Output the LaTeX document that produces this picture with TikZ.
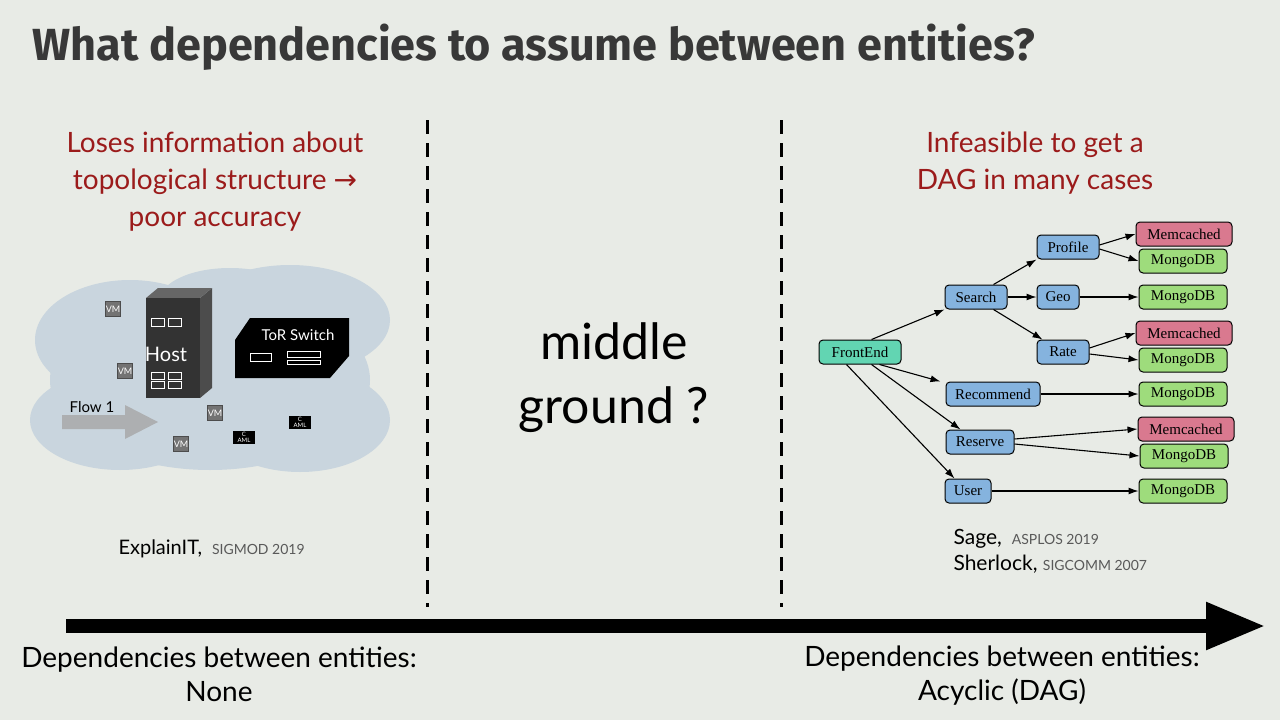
\documentclass[tikz,border=0pt]{standalone}
\usepackage{fontspec}
\setmainfont{Lato}
\newfontfamily\serifg{Liberation Serif}
\newfontfamily\titlef{Fira Sans}[UprightFont=* Bold]
\newfontfamily\symf{DejaVu Sans}
\usetikzlibrary{arrows.meta,shapes.misc}
\definecolor{bg}{HTML}{E8EBE6}
\definecolor{redt}{HTML}{9B1B1B}
\definecolor{cloud}{HTML}{C9D5DE}
\definecolor{nblue}{HTML}{85B3DE}
\definecolor{ngreen}{HTML}{9EDC7C}
\definecolor{npink}{HTML}{D9798F}
\definecolor{nteal}{HTML}{62D5B2}
\tikzset{
 g/.style={draw=black,line width=1pt,rounded corners=4pt,minimum height=24pt,inner xsep=3pt,font=\serifg\fontsize{15}{15}\selectfont},
 sv/.style={g,fill=nblue},
 mo/.style={g,fill=ngreen,minimum width=88pt},
 me/.style={g,fill=npink,minimum width=96pt},
 e/.style={-{Latex[length=10pt,width=7pt]},line width=1.1pt},
 vm/.style={fill=black!55,draw=black!70,minimum size=15pt,inner sep=0pt,text=white,font=\fontsize{9}{9}\selectfont},
 cam/.style={fill=black,minimum width=22pt,minimum height=13pt,inner sep=0pt,text=white,font=\fontsize{6}{6}\selectfont,align=center},
 red/.style={text=redt,font=\fontsize{28}{37}\selectfont,align=center},
 bot/.style={font=\fontsize{28}{34}\selectfont,align=center}
}
\begin{document}
\begin{tikzpicture}[x=1pt,y=-1pt]
\fill[bg] (0,0) rectangle (1280,720);
\useasboundingbox (0,0) rectangle (1280,720);
\node[anchor=west,text=black!78,font=\titlef\fontsize{45}{45}\selectfont] (title) at (29,47) {What dependencies to assume between entities?};
% dashed
\draw[line width=3pt,dash pattern=on 14pt off 9pt] (427,120) coordinate (d1a) -- (427,607) coordinate (d1b);
\draw[line width=3pt,dash pattern=on 14pt off 9pt] (781,120) coordinate (d2a) -- (781,607) coordinate (d2b);
% axis
\draw[line width=14pt,-{Triangle[length=60pt,width=44pt]}] (66,626) coordinate (ax0) -- (1266,626) coordinate (ax1);
% headings
\node[red] (lh) at (215,182) {Loses information about\\topological structure {\symf→}\\poor accuracy};
\node[red] (rh) at (1035,163) {Infeasible to get a\\DAG in many cases};
\node[font=\fontsize{50}{64}\selectfont,align=center] (mid) at (614,378) {middle\\ground ?};
% cloud
\fill[cloud] (210,380) ellipse (160 and 90);
\fill[cloud] (130,340) ellipse (95 and 60);
\fill[cloud] (290,320) ellipse (100 and 55);
\fill[cloud] (120,420) ellipse (90 and 50);
\fill[cloud] (300,420) ellipse (90 and 52);
\fill[cloud] (230,300) ellipse (70 and 32);
% host
\fill[black!70] (200,298) -- (212,288) -- (212,388) -- (200,398) -- cycle;
\fill[black!60] (146,298) -- (158,288) -- (212,288) -- (200,298) -- cycle;
\fill[black!80] (146,298) rectangle (200,398);
\node[text=white,font=\fontsize{20}{20}\selectfont] (host) at (166,354) {Host};
\draw[white,line width=1pt] (151,318) rectangle (164,326) (168,318) rectangle (181,326);
\draw[white,line width=1pt] (151,372) rectangle (164,379) (168,372) rectangle (181,379) (151,381) rectangle (164,388) (168,381) rectangle (181,388);
% switch
\fill[black] (235,340) -- (250,318) -- (349,318) -- (349,356) -- (330,378) -- (235,378) -- cycle;
\node[text=white,font=\fontsize{15}{15}\selectfont] (tor) at (298,335) {ToR Switch};
\draw[white,line width=1pt] (250,353) rectangle (271,361);
\draw[white,line width=1pt] (287,351) rectangle (320,357) (287,360) rectangle (320,364);
% vms
\node[vm] (vm1) at (113,309) {VM};
\node[vm] (vm2) at (125,371) {VM};
\node[vm] (vm3) at (215,413) {VM};
\node[vm] (vm4) at (181,444) {VM};
\node[cam] (c1) at (244,437) {C\\AML};
\node[cam] (c2) at (300,422) {C\\AML};
% flow arrow
\fill[black!35,opacity=.8] (62,415) -- (125,415) -- (125,405) -- (158,422) -- (125,439) -- (125,429) -- (62,429) -- cycle;
\node[font=\fontsize{15}{15}\selectfont] (flow) at (92,407) {Flow 1};
% citations
\node[anchor=base west,font=\fontsize{20}{20}\selectfont] (ex) at (115,554) {ExplainIT, \fontsize{14}{14}\selectfont\color{black!65}\,\,SIGMOD 2019};
\node[anchor=base west,font=\fontsize{21}{21}\selectfont] (sage) at (950,544) {Sage, \fontsize{14}{14}\selectfont\color{black!65}\,\,ASPLOS 2019};
\node[anchor=base west,font=\fontsize{21}{21}\selectfont] (sher) at (950,570) {Sherlock, \fontsize{14}{14}\selectfont\color{black!65}SIGCOMM 2007};
% bottom
\node[bot] (bl) at (219,674) {Dependencies between entities:\\None};
\node[bot] (br) at (1002,676) {Dependencies between entities:\\Acyclic (DAG)};
% graph
\node[g,fill=nteal,minimum width=82pt] (fe) at (860,352) {FrontEnd};
\node[sv,minimum width=62pt] (search) at (976,297) {Search};
\node[sv,minimum width=62pt] (profile) at (1068,247) {Profile};
\node[sv,minimum width=42pt] (geo) at (1058,297) {Geo};
\node[sv,minimum width=52pt] (rate) at (1063,352) {Rate};
\node[sv,minimum width=94pt] (rec) at (993,394) {Recommend};
\node[sv,minimum width=68pt] (res) at (980,442) {Reserve};
\node[sv,minimum width=46pt] (user) at (968,491) {User};
\node[me] (m1) at (1184,234) {Memcached};
\node[mo] (d1) at (1183,261) {MongoDB};
\node[mo] (d2) at (1183,297) {MongoDB};
\node[me] (m2) at (1184,333) {Memcached};
\node[mo] (d3) at (1183,360) {MongoDB};
\node[mo] (d4) at (1183,394) {MongoDB};
\node[me] (m3) at (1186,429) {Memcached};
\node[mo] (d5) at (1184,456) {MongoDB};
\node[mo] (d6) at (1183,491) {MongoDB};
\draw[e] ([xshift=-30pt]fe.north east) -- (search.south west);
\draw[e] ([xshift=-22pt]fe.south east) -- ([xshift=-5pt]rec.north west);
\draw[e] ([xshift=-30pt]fe.south east) -- ([xshift=15pt]res.north west);
\draw[e] ([xshift=28pt]fe.south west) -- ([xshift=10pt]user.north west);
\draw[e] ([xshift=-14pt]search.north east) -- (profile.south west);
\draw[e] (search) -- (geo);
\draw[e] ([xshift=-14pt]search.south east) -- ([xshift=6pt]rate.north west);
\draw[e] ([yshift=2pt]profile.east) -- (m1.west);
\draw[e] ([yshift=-2pt]profile.east) -- (d1.west);
\draw[e] (geo) -- (d2);
\draw[e] ([yshift=4pt]rate.east) -- (m2.west);
\draw[e] ([yshift=-2pt]rate.east) -- (d3.west);
\draw[e] (rec) -- (d4);
\draw[e] ([yshift=3pt]res.east) -- (m3.west);
\draw[e] ([yshift=-2pt]res.east) -- (d5.west);
\draw[e] (user) -- (d6);
\end{tikzpicture}
\end{document}
